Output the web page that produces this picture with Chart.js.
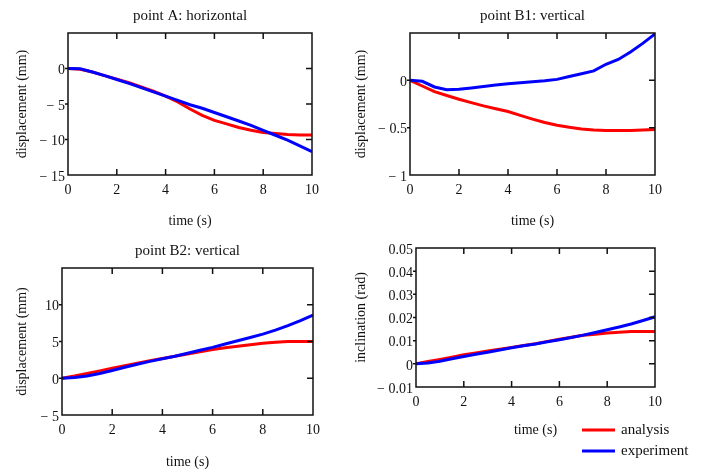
<!DOCTYPE html>
<html>
<head>
<meta charset="utf-8">
<script src="https://cdn.jsdelivr.net/npm/chart.js@4/dist/chart.umd.min.js"></script>
<style>
  body { margin: 0; background: #fff; }
  #wrap { position: relative; width: 706px; height: 469px; }
  #wrap canvas { position: absolute; left: 0; top: 0; }
</style>
</head>
<body>
<div id="wrap">
  <canvas id="chartA" width="706" height="469"></canvas>
  <canvas id="chartB1" width="706" height="469"></canvas>
  <canvas id="chartB2" width="706" height="469"></canvas>
  <canvas id="chartIncl" width="706" height="469"></canvas>
</div>
<script>
// time axis (s)
const time = [0, 0.5, 1, 1.5, 2, 2.5, 3, 3.5, 4, 4.5, 5, 5.5, 6, 6.5, 7, 7.5, 8, 8.5, 9, 9.5, 10];
const xTicks = [0, 2, 4, 6, 8, 10];
const seriesNames = ["analysis", "experiment"];

// point A: horizontal (mm)
const analysisA   = [0, -0.1, -0.5, -1.0, -1.5, -2.0, -2.6, -3.2, -3.9, -4.7, -5.7, -6.6, -7.3, -7.8, -8.3, -8.7, -9.0, -9.15, -9.3, -9.35, -9.35];
const experimentA = [0, -0.05, -0.5, -1.0, -1.55, -2.1, -2.7, -3.3, -3.9, -4.5, -5.1, -5.6, -6.2, -6.8, -7.4, -8.0, -8.7, -9.4, -10.1, -10.9, -11.7];
const yTicksA = [-15, -10, -5, 0];

// point B1: vertical (mm)
const analysisB1   = [0, -0.06, -0.12, -0.16, -0.2, -0.235, -0.27, -0.3, -0.33, -0.37, -0.41, -0.445, -0.475, -0.495, -0.515, -0.525, -0.53, -0.53, -0.53, -0.525, -0.52];
const experimentB1 = [0, -0.01, -0.07, -0.1, -0.095, -0.08, -0.065, -0.05, -0.035, -0.025, -0.015, -0.005, 0.01, 0.04, 0.07, 0.1, 0.17, 0.22, 0.3, 0.39, 0.49];
const yTicksB1 = [-1, -0.5, 0];

// point B2: vertical (mm)
const analysisB2   = [0, 0.3, 0.65, 1.0, 1.35, 1.7, 2.05, 2.4, 2.7, 3.0, 3.3, 3.6, 3.9, 4.15, 4.35, 4.55, 4.75, 4.9, 5.0, 5.0, 5.0];
const experimentB2 = [0, 0.1, 0.3, 0.65, 1.05, 1.5, 1.9, 2.3, 2.65, 3.0, 3.4, 3.8, 4.2, 4.65, 5.1, 5.55, 6.0, 6.55, 7.15, 7.85, 8.6];
const yTicksB2 = [-5, 0, 5, 10];

// inclination (rad)
const analysisIncl   = [0, 0.001, 0.0019, 0.0029, 0.0039, 0.0047, 0.0055, 0.0063, 0.0071, 0.0079, 0.0087, 0.0097, 0.0106, 0.0115, 0.0123, 0.0128, 0.0133, 0.0136, 0.014, 0.014, 0.014];
const experimentIncl = [0, 0.0004, 0.0011, 0.0022, 0.0032, 0.0041, 0.005, 0.006, 0.0069, 0.0078, 0.0086, 0.0095, 0.0104, 0.0114, 0.0124, 0.0135, 0.0147, 0.0159, 0.0172, 0.0187, 0.0203];
const yTicksIncl = [-0.01, 0, 0.01, 0.02, 0.03, 0.04, 0.05];

const FONT = '"Liberation Serif", "Times New Roman", serif';
const INK = '#111';
const colors = ['#ff0000', '#0000ff'];

// mathcad-ish label: "− 15"
const fmt = v => v < 0 ? '\u2212 ' + String(-v) : String(v);

// frame box, inward ticks, panel title and legend
const mathcadFrame = {
  id: 'mathcadFrame',
  afterDatasetsDraw(chart, args, opts) {
    const {ctx, chartArea: a, scales} = chart;
    ctx.save();
    ctx.strokeStyle = INK;
    ctx.lineWidth = 1.5;
    ctx.strokeRect(a.left, a.top, a.right - a.left, a.bottom - a.top);
    ctx.beginPath();
    scales.x.ticks.forEach(t => {
      const px = scales.x.getPixelForValue(t.value);
      if (px <= a.left + 1 || px >= a.right - 1) return;
      ctx.moveTo(px, a.bottom); ctx.lineTo(px, a.bottom - 6);
      ctx.moveTo(px, a.top); ctx.lineTo(px, a.top + 6);
    });
    scales.y.ticks.forEach(t => {
      const py = scales.y.getPixelForValue(t.value);
      if (py <= a.top + 1 || py >= a.bottom - 1) return;
      ctx.moveTo(a.right, py); ctx.lineTo(a.right - 6, py);
      ctx.moveTo(a.left, py); ctx.lineTo(a.left - 3, py);
    });
    ctx.stroke();

    ctx.fillStyle = INK;
    if (opts.title) {
      ctx.font = '15px ' + FONT;
      ctx.textAlign = 'center';
      ctx.textBaseline = 'middle';
      ctx.fillText(opts.title, (a.left + a.right) / 2, opts.titleY);
    }
    if (opts.legend) {
      const L = opts.legend;
      ctx.font = '15px ' + FONT;
      ctx.textAlign = 'left';
      ctx.textBaseline = 'middle';
      chart.data.datasets.forEach((ds, i) => {
        const y = L.y + i * L.gap;
        ctx.strokeStyle = ds.borderColor;
        ctx.lineWidth = 3;
        ctx.beginPath();
        ctx.moveTo(L.x, y); ctx.lineTo(L.x + 33, y);
        ctx.stroke();
        ctx.fillText(ds.label, L.x + 39, y);
      });
    }
    ctx.restore();
  }
};

function makePanel(id, p) {
  const lh = 14 * 1.2;
  const yW = p.area.l - p.yTitleX + lh / 2;
  const xH = p.xTitleY - p.area.b + lh / 2;
  const series = [p.analysis, p.experiment];
  return new Chart(document.getElementById(id), {
    type: 'line',
    data: {
      datasets: series.map((vals, i) => ({
        label: seriesNames[i],
        data: time.map((t, k) => ({x: t, y: vals[k]})),
        borderColor: colors[i],
        backgroundColor: colors[i],
        borderWidth: 3,
        pointRadius: 0,
        tension: 0,
        order: 1 - i
      }))
    },
    options: {
      responsive: false,
      animation: false,
      devicePixelRatio: 1,
      events: [],
      layout: {
        padding: {
          left: p.area.l - yW,
          right: 706 - p.area.r,
          top: p.area.t,
          bottom: 469 - p.area.b - xH
        }
      },
      plugins: {
        legend: {display: false},
        tooltip: {enabled: false},
        mathcadFrame: {title: p.title, titleY: p.titleY, legend: p.legend}
      },
      scales: {
        x: {
          type: 'linear',
          min: 0, max: 10,
          afterBuildTicks: s => { s.ticks = xTicks.map(v => ({value: v})); },
          afterFit: s => { s.height = xH; },
          grid: {display: false, drawTicks: false},
          border: {display: false},
          ticks: {
            padding: 7, maxRotation: 0, autoSkip: false, color: INK,
            font: {family: FONT, size: 14}, callback: v => fmt(v)
          },
          title: {
            display: true, text: 'time (s)', color: INK, padding: 0,
            font: {family: FONT, size: 14}
          }
        },
        y: {
          type: 'linear',
          min: p.yMin, max: p.yMax,
          afterBuildTicks: s => { s.ticks = p.yTicks.map(v => ({value: v})); },
          afterFit: s => { s.width = yW; },
          grid: {display: false, drawTicks: false},
          border: {display: false},
          ticks: {
            padding: 3, labelOffset: 2, color: INK,
            font: {family: FONT, size: 14}, callback: v => fmt(v)
          },
          title: {
            display: true, text: p.yTitle, color: INK, padding: 0,
            font: {family: FONT, size: 14}
          }
        }
      }
    },
    plugins: [mathcadFrame]
  });
}

makePanel('chartA', {
  area: {l: 68, r: 312, t: 33, b: 175},
  yMin: -15, yMax: 5, yTicks: yTicksA,
  analysis: analysisA, experiment: experimentA,
  title: 'point A: horizontal', titleY: 16,
  yTitle: 'displacement (mm)', yTitleX: 22, xTitleY: 221
});

makePanel('chartB1', {
  area: {l: 410, r: 655, t: 33, b: 175},
  yMin: -1, yMax: 0.5, yTicks: yTicksB1,
  analysis: analysisB1, experiment: experimentB1,
  title: 'point B1: vertical', titleY: 16,
  yTitle: 'displacement (mm)', yTitleX: 361, xTitleY: 221
});

makePanel('chartB2', {
  area: {l: 62, r: 313, t: 268, b: 415},
  yMin: -5, yMax: 15, yTicks: yTicksB2,
  analysis: analysisB2, experiment: experimentB2,
  title: 'point B2: vertical', titleY: 251,
  yTitle: 'displacement (mm)', yTitleX: 22, xTitleY: 462
});

makePanel('chartIncl', {
  area: {l: 416, r: 655, t: 248, b: 387},
  yMin: -0.01, yMax: 0.05, yTicks: yTicksIncl,
  analysis: analysisIncl, experiment: experimentIncl,
  yTitle: 'inclination (rad)', yTitleX: 361, xTitleY: 430,
  legend: {x: 582, y: 430, gap: 21}
});
</script>
</body>
</html>
